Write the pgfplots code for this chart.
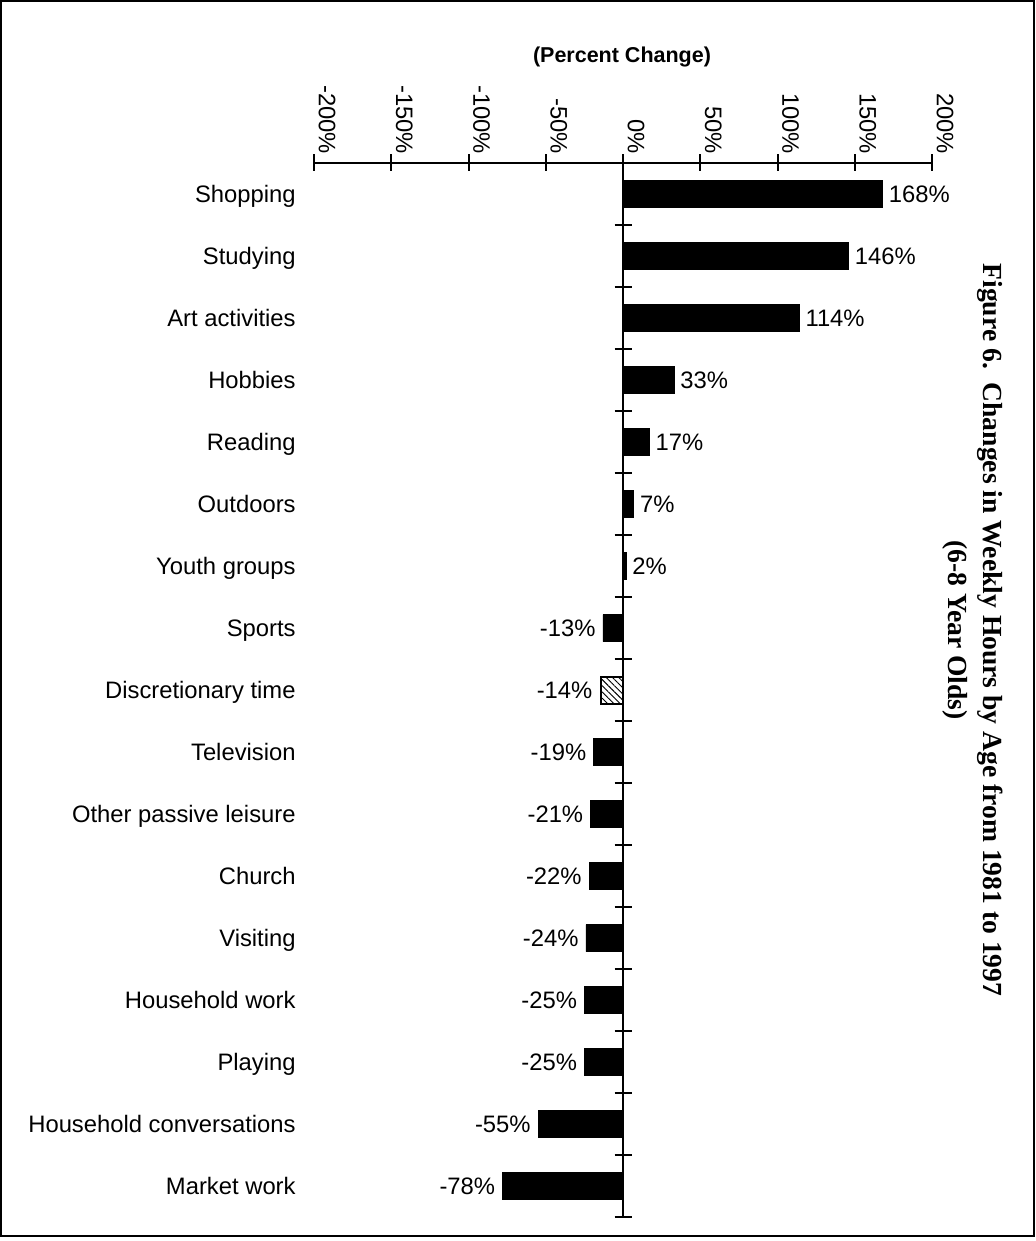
\documentclass[border=0pt]{standalone}
\usepackage{pgfplots}
\pgfplotsset{compat=1.18}
\usepackage{pgfplotstable}
\usetikzlibrary{patterns.meta}
\usepackage{fontspec}
\setmainfont{Liberation Sans}
\newfontfamily\titlefont{Liberation Serif}

\newcommand\lbl{\fontsize{11.9}{14}\selectfont}

% Percent change in weekly hours, 1981 to 1997 (6-8 year olds)
\pgfplotstableread[col sep=comma]{
idx,val
16,168
15,146
14,114
13,33
12,17
11,7
10,2
}\posdata
\pgfplotstableread[col sep=comma]{
idx,val
9,-13
7,-19
6,-21
5,-22
4,-24
3,-25
2,-25
1,-55
0,-78
}\negdata
\pgfplotstableread[col sep=comma]{
idx,val
8,-14
}\discdata
\pgfplotstableread[col sep=comma]{
idx,name
16,Shopping
15,Studying
14,Art activities
13,Hobbies
12,Reading
11,Outdoors
10,Youth groups
9,Sports
8,Discretionary time
7,Television
6,Other passive leisure
5,Church
4,Visiting
3,Household work
2,Playing
1,Household conversations
0,Market work
}\names

\begin{document}
\begin{tikzpicture}
\useasboundingbox (0,0) rectangle (518pt,-620.5pt);
\draw[line width=1pt] (0.6pt,-0.6pt) rectangle (517pt,-617.8pt);

\begin{axis}[
  at={(157pt,-81.5pt)}, anchor=north west,
  scale only axis, width=309pt, height=527pt,
  xmin=-200, xmax=200, ymin=-0.5, ymax=16.5,
  axis x line=top, axis y line=center,
  axis line style={-, line width=1pt, black},
  xtick={-200,-150,...,200},
  xticklabel={\pgfmathprintnumber{\tick}\%},
  xticklabel style={rotate=-90, anchor=east, font=\lbl, inner sep=0pt, yshift=6.5pt},
  ytick={-0.5,0.5,...,16.5}, yticklabels={},
  tick align=center, major tick length=8.5pt,
  tick style={line width=1pt, black},
  clip=false,
  /pgf/number format/assume math mode=true,
  every node near coord/.append style={font=\lbl, inner sep=0pt, text=black},
]
% category names at the left
\addplot[draw=none, mark=none, nodes near coords, point meta=explicit symbolic,
  nodes near coords style={anchor=base east, xshift=-9pt, yshift=-4.2pt}]
  table[x expr=-200, y=idx, meta=name] {\names};
% increases
\addplot[xbar, bar width=13.5pt, bar shift=0pt, fill=black, draw=black,
  point meta=x, nodes near coords={\pgfmathprintnumber{\pgfplotspointmeta}\%},
  nodes near coords style={anchor=base west, xshift=3pt, yshift=-4.2pt}]
  table[x=val, y=idx] {\posdata};
% decreases
\addplot[xbar, bar width=13.5pt, bar shift=0pt, fill=black, draw=black,
  point meta=x, nodes near coords={\pgfmathprintnumber{\pgfplotspointmeta}\%},
  nodes near coords style={anchor=base east, xshift=-3.5pt, yshift=-4.2pt}]
  table[x=val, y=idx] {\negdata};
% discretionary time (hatched)
\addplot[xbar, bar width=13.5pt, bar shift=0pt, draw=black, line width=1pt,
  pattern={Lines[angle=-45, distance=2.2pt, line width=0.45pt]},
  point meta=x, nodes near coords={\pgfmathprintnumber{\pgfplotspointmeta}\%},
  nodes near coords style={anchor=base east, xshift=-4pt, yshift=-4.2pt}]
  table[x=val, y=idx] {\discdata};
\end{axis}

\node[font=\fontsize{10.75}{13}\selectfont\bfseries] at (311pt,-28.5pt) {(Percent Change)};
\node[rotate=-90, align=center, font=\titlefont\fontsize{13.8}{17.5}\selectfont\bfseries]
  at (486.5pt,-315pt) {Figure 6.\ \ Changes in Weekly Hours by Age from 1981 to 1997\\(6-8 Year Olds)};
\end{tikzpicture}
\end{document}
